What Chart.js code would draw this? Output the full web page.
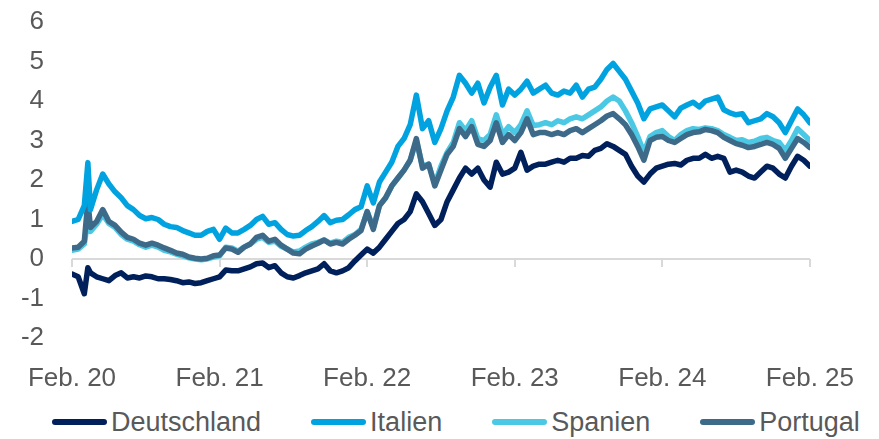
<!DOCTYPE html>
<html>
<head>
<meta charset="utf-8">
<script src="https://cdn.jsdelivr.net/npm/chart.js@4"></script>
<style>
  html, body { margin: 0; padding: 0; background: #fff; }
  #page { position: relative; width: 879px; height: 439px; }
  #wrap { position: absolute; left: 0; top: 0; width: 879px; height: 395px; }
  #legend {
    position: absolute; left: 52px; top: 408px; height: 28px;
    display: flex; align-items: center;
    font-family: 'Liberation Sans', Arial, sans-serif; font-size: 27px; color: #595959;
    line-height: 28px; white-space: nowrap;
  }
  #legend .item { display: flex; align-items: center; margin-right: 50px; }
  #legend .swatch { width: 55px; height: 6px; border-radius: 3px; margin-right: 4px; }
</style>
</head>
<body>
<div id="page">
  <div id="wrap"><canvas id="chart"></canvas></div>
  <div id="legend"></div>
</div>
<script>
// x axis: months since Feb 2020
const tickLabels = ['Feb. 20', 'Feb. 21', 'Feb. 22', 'Feb. 23', 'Feb. 24', 'Feb. 25'];
const seriesNames = ['Deutschland', 'Italien', 'Spanien', 'Portugal'];
const seriesColors = ['#00205b', '#00a3e0', '#4bc8e3', '#3e6a8a'];

// half-monthly observations, plus one extra point for the March 2020 spike
const months = [];
for (let k = 0; k <= 120; k++) {
  months.push(k / 2);
  if (k === 2) months.push(1.29);
}

const deutschland = [
  -0.38, -0.45, -0.88, -0.22, -0.35, -0.45, -0.5, -0.55, -0.42, -0.35, -0.48,
  -0.45, -0.48, -0.43, -0.45, -0.5, -0.5, -0.52, -0.55, -0.6, -0.58,
  -0.62, -0.6, -0.55, -0.5, -0.45, -0.28, -0.3, -0.3, -0.25, -0.2,
  -0.12, -0.1, -0.22, -0.17, -0.35, -0.45, -0.48, -0.42, -0.35, -0.3,
  -0.25, -0.12, -0.3, -0.35, -0.3, -0.22, -0.05, 0.1, 0.25, 0.15,
  0.3, 0.5, 0.7, 0.9, 1.0, 1.2, 1.65, 1.45, 1.15, 0.85,
  1.0, 1.45, 1.75, 2.05, 2.3, 2.15, 2.3, 2.0, 1.82, 2.45,
  2.15, 2.2, 2.3, 2.7, 2.25, 2.35, 2.4, 2.4, 2.45, 2.5,
  2.45, 2.55, 2.55, 2.62, 2.6, 2.75, 2.8, 2.92, 2.85, 2.75,
  2.65, 2.35, 2.1, 1.95, 2.15, 2.3, 2.35, 2.4, 2.42, 2.38,
  2.5, 2.55, 2.55, 2.65, 2.55, 2.6, 2.55, 2.2, 2.25, 2.2,
  2.1, 2.05, 2.2, 2.35, 2.3, 2.15, 2.05, 2.35, 2.6, 2.5,
  2.35
];

const italien = [
  0.95, 1.0, 1.35, 2.44, 1.25, 1.75, 2.15, 1.9, 1.7, 1.55, 1.35,
  1.25, 1.1, 1.02, 1.05, 1.0, 0.88, 0.82, 0.8, 0.72, 0.66,
  0.6, 0.6, 0.7, 0.75, 0.5, 0.78, 0.66, 0.66, 0.75, 0.85,
  1.0, 1.08, 0.88, 0.92, 0.75, 0.62, 0.58, 0.6, 0.72, 0.82,
  0.95, 1.1, 0.92, 0.98, 1.0, 1.12, 1.25, 1.32, 1.85, 1.42,
  1.95, 2.2, 2.45, 2.85, 3.05, 3.4, 4.15, 3.3, 3.5, 2.95,
  3.3, 3.75, 4.1, 4.65, 4.45, 4.2, 4.45, 3.95, 4.35, 4.65,
  3.9, 4.3, 4.15, 4.3, 4.5, 4.2, 4.3, 4.4, 4.2, 4.15,
  4.25, 4.2, 4.4, 4.1, 4.3, 4.35, 4.55, 4.8, 4.95, 4.75,
  4.55, 4.25, 3.95, 3.55, 3.8, 3.85, 3.9, 3.75, 3.6, 3.82,
  3.9, 3.97, 3.85, 4.0, 4.05, 4.1, 3.78, 3.7, 3.65, 3.68,
  3.45, 3.5, 3.55, 3.68, 3.6, 3.45, 3.2, 3.5, 3.8, 3.65,
  3.45
];

const spanien = [
  0.22, 0.25, 0.38, 1.0, 0.7, 0.88, 1.12, 0.9, 0.8, 0.62, 0.5,
  0.45, 0.36, 0.3, 0.35, 0.3, 0.22, 0.18, 0.12, 0.08, 0.03,
  0.0, -0.02, 0.0, 0.05, 0.08, 0.3, 0.28, 0.2, 0.3, 0.38,
  0.5, 0.55, 0.42, 0.45, 0.32, 0.25, 0.18, 0.2, 0.3, 0.38,
  0.42, 0.48, 0.4, 0.45, 0.42, 0.55, 0.62, 0.75, 1.2, 0.8,
  1.35, 1.55, 1.85, 2.05, 2.25, 2.5, 3.0, 2.35, 2.4, 1.9,
  2.35, 2.7, 2.95, 3.45, 3.25, 3.5, 3.05, 3.0, 3.15, 3.65,
  3.15, 3.35, 3.2, 3.4, 3.75, 3.38, 3.4, 3.45, 3.4, 3.5,
  3.45, 3.55, 3.6, 3.55, 3.65, 3.75, 3.85, 4.0, 4.1, 4.0,
  3.75, 3.45, 3.1, 2.7, 3.1, 3.2, 3.25, 3.1, 3.0, 3.15,
  3.25, 3.3, 3.28, 3.32, 3.3, 3.25, 3.15, 3.08, 3.0, 3.02,
  2.95, 2.98, 3.05, 3.08, 3.0, 2.95, 2.75, 3.0, 3.3, 3.15,
  3.0
];

const portugal = [
  0.28, 0.3, 0.45, 1.47, 0.8, 0.95, 1.25, 0.95, 0.85, 0.68, 0.55,
  0.5, 0.4, 0.35, 0.4, 0.35, 0.28, 0.22, 0.15, 0.12, 0.05,
  0.02, 0.0, 0.02, 0.08, 0.1, 0.28, 0.25, 0.17, 0.3, 0.38,
  0.55, 0.6, 0.45, 0.5, 0.35, 0.25, 0.15, 0.13, 0.25, 0.33,
  0.4, 0.48, 0.38, 0.42, 0.38, 0.5, 0.6, 0.72, 1.2, 0.75,
  1.35, 1.55, 1.85, 2.05, 2.25, 2.5, 3.05, 2.3, 2.4, 1.85,
  2.25, 2.65, 2.85, 3.3, 3.1, 3.35, 2.9, 2.85, 3.0, 3.45,
  2.95, 3.15, 3.0, 3.2, 3.55, 3.15, 3.2, 3.2, 3.15, 3.2,
  3.15, 3.25, 3.3, 3.2, 3.3, 3.4, 3.5, 3.62, 3.68, 3.55,
  3.4, 3.15, 2.85, 2.5, 3.0, 3.08, 3.1, 3.0, 2.95, 3.05,
  3.15, 3.2, 3.22, 3.28, 3.25, 3.2, 3.08, 3.0, 2.92, 2.88,
  2.82, 2.85, 2.9, 2.95, 2.9, 2.8, 2.55, 2.8, 3.05, 2.95,
  2.82
];

const seriesValues = [deutschland, italien, spanien, portugal];

const datasets = seriesNames.map((name, i) => ({
  label: name,
  data: months.map((m, j) => ({ x: m, y: seriesValues[i][j] })),
  borderColor: seriesColors[i],
  backgroundColor: seriesColors[i],
  borderWidth: 5.5,
  borderCapStyle: 'round',
  borderJoinStyle: 'round',
  pointRadius: 0,
  tension: 0,
  // Spanien sits underneath Portugal
  order: name === 'Spanien' ? 1 : 0
}));

// the x axis line runs along y = 0, with small ticks hanging down
const zeroAxis = {
  id: 'zeroAxis',
  beforeDatasetsDraw(chart) {
    const { ctx, scales: { x, y } } = chart;
    const y0 = Math.round(y.getPixelForValue(0));
    ctx.save();
    ctx.strokeStyle = '#d9d9d9';
    ctx.lineWidth = 2;
    ctx.beginPath();
    ctx.moveTo(x.left, y0);
    ctx.lineTo(x.right, y0);
    x.ticks.forEach(t => {
      const px = Math.round(x.getPixelForValue(t.value));
      ctx.moveTo(px, y0);
      ctx.lineTo(px, y0 + 8);
    });
    ctx.stroke();
    ctx.restore();
  }
};

const textColor = '#595959';
const fontFamily = "'Liberation Sans', Arial, sans-serif";

const chart = new Chart(document.getElementById('chart'), {
  type: 'line',
  data: { datasets },
  options: {
    responsive: true,
    maintainAspectRatio: false,
    animation: false,
    layout: { padding: { top: 22, right: 64, bottom: 0, left: 0 } },
    plugins: {
      legend: { display: false },
      tooltip: { enabled: false }
    },
    scales: {
      x: {
        type: 'linear',
        min: 0,
        max: 60,
        grid: { display: false, drawTicks: false },
        border: { display: false },
        ticks: {
          stepSize: 12,
          padding: 25,
          color: textColor,
          font: { family: fontFamily, size: 26 },
          maxRotation: 0,
          callback: v => tickLabels[v / 12]
        },
        afterFit(s) { s.height = 57; }
      },
      y: {
        min: -2,
        max: 6,
        grid: { display: false, drawTicks: false },
        border: { display: false },
        ticks: {
          stepSize: 1,
          autoSkip: false,
          padding: 28,
          color: textColor,
          font: { family: fontFamily, size: 26 }
        },
        afterFit(s) {
          s.width = 72;
          // label padding should not push the plot area down
          s.paddingTop = 0;
          s.paddingBottom = 0;
        }
      }
    }
  },
  plugins: [zeroAxis]
});

// html legend below the canvas
const legendEl = document.getElementById('legend');
chart.data.datasets.forEach(ds => {
  const item = document.createElement('div');
  item.className = 'item';
  const swatch = document.createElement('span');
  swatch.className = 'swatch';
  swatch.style.background = ds.borderColor;
  const label = document.createElement('span');
  label.textContent = ds.label;
  item.appendChild(swatch);
  item.appendChild(label);
  legendEl.appendChild(item);
});
</script>
</body>
</html>
